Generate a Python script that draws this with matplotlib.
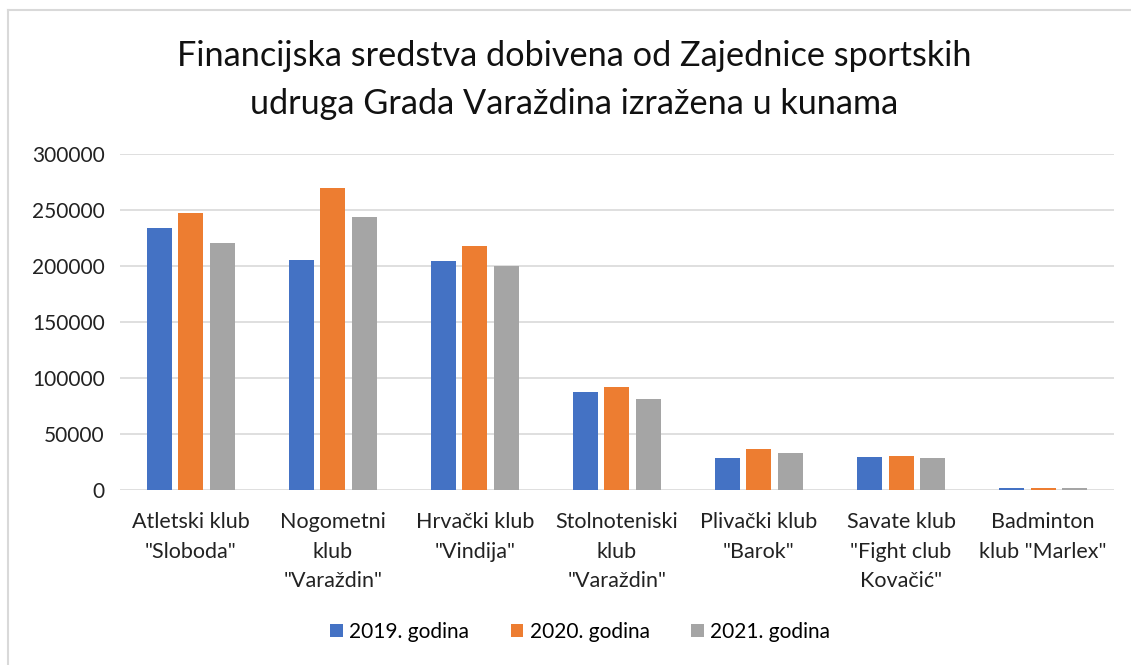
import numpy as np
import matplotlib.pyplot as plt
from matplotlib.lines import Line2D

# Club names (x categories)
clubs = ['Atletski klub\n"Sloboda"', 'Nogometni\nklub\n"Varaždin"', 'Hrvački klub\n"Vindija"',
         'Stolnoteniski\nklub\n"Varaždin"', 'Plivački klub\n"Barok"', 'Savate klub\n"Fight club\nKovačić"',
         'Badminton\nklub "Marlex"']

# Funds per year (kn)
y2019 = [234000, 205000, 204000, 87500, 28000, 29000, 1500]
y2020 = [247000, 270000, 218000, 91700, 36000, 30500, 1500]
y2021 = [220500, 244000, 200000, 81500, 32500, 28000, 1200]

series = [y2019, y2020, y2021]
names = ['2019. godina', '2020. godina', '2021. godina']
colors = ['#4472C4', '#ED7D31', '#A5A5A5']

plt.rcParams['font.family'] = ['Lato', 'DejaVu Sans']

W, H = 1131, 665
fig = plt.figure(figsize=(W / 100, H / 100), dpi=100)
ax = fig.add_axes([0.106, 0.2636, 0.879, 0.5048])

# chart border is cut off: only the top and left edges show
fig.lines.append(Line2D([7.5 / W, 1], [1 - 10 / H, 1 - 10 / H], transform=fig.transFigure,
                        color='#D9D9D9', linewidth=1.5))
fig.lines.append(Line2D([7.5 / W, 7.5 / W], [0, 1 - 10 / H], transform=fig.transFigure,
                        color='#D9D9D9', linewidth=1.5))

x = np.arange(len(clubs))
w = 0.176
step = 0.222
for i, (vals, name, c) in enumerate(zip(series, names, colors)):
    ax.bar(x + (i - 1) * step, vals, w, color=c, label=name, zorder=3)

ax.set_xlim(-0.5, len(clubs) - 0.5)
ax.set_ylim(0, 300000)
ax.set_yticks(np.arange(0, 300001, 50000))
ax.set_yticklabels([str(v) for v in range(0, 300001, 50000)], fontsize=15, color='#222222')
ax.set_xticks(x)
ax.set_xticklabels(clubs, fontsize=15.5, color='#222222', linespacing=1.6, va='top')
ax.tick_params(axis='both', length=0)
ax.tick_params(axis='x', pad=16)
ax.tick_params(axis='y', pad=11)
ax.grid(axis='y', color='#D9D9D9', linewidth=1.2, zorder=0)
for s in ax.spines.values():
    s.set_visible(False)

fig.text(0.508, 0.880, 'Financijska sredstva dobivena od Zajednice sportskih\nudruga Grada Varaždina izražena u kunama',
         ha='center', va='center', fontsize=24.7, linespacing=1.6, color='#111111')

leg = fig.legend(loc='center', bbox_to_anchor=(0.513, 0.05), ncol=3, frameon=False, fontsize=15,
                 handlelength=0.6, handleheight=0.6, handletextpad=0.3, columnspacing=2.0)

plt.savefig('out.png', dpi=100)
